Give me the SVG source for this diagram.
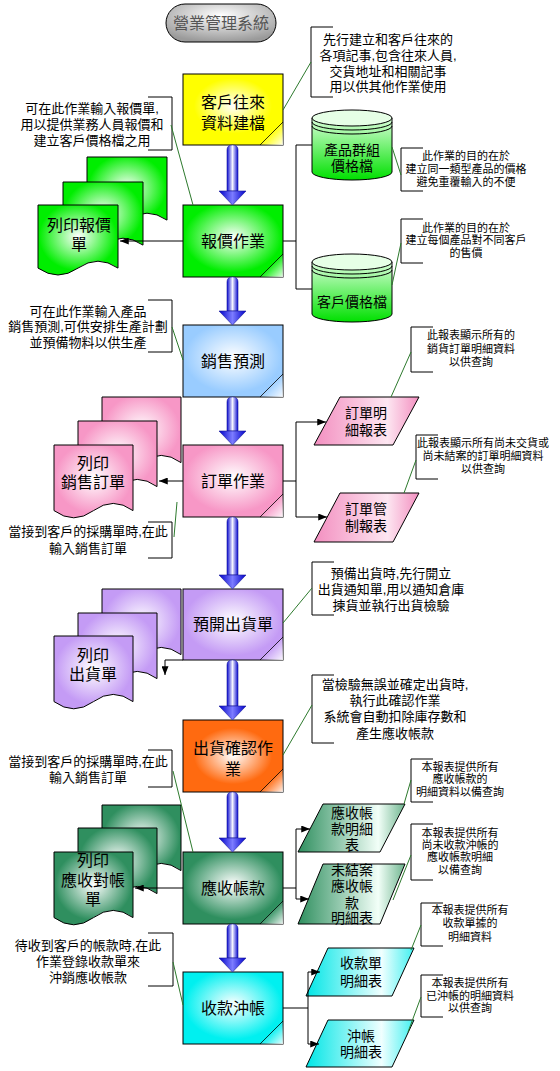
<svg xmlns="http://www.w3.org/2000/svg" width="560" height="1071" viewBox="0 0 560 1071">
<style>
text{font-family:'Liberation Sans','Noto Sans CJK TC',sans-serif;text-anchor:middle;dominant-baseline:central;fill:#000}
.t{font-size:13px}
.s{font-size:11px}
.b{font-size:16px}
.p{font-size:14px}
.ol{stroke:#000;stroke-width:1}
.ln{stroke:#000;stroke-width:1;fill:none}
.ld{stroke:#2d7a2d;stroke-width:1;fill:none}
.sh{fill:url(#gArrow);stroke:#1a1a9a;stroke-width:0.6}
.hd{fill:url(#gHead);stroke:#1a1a9a;stroke-width:0.6}
.fold{fill:url(#gFold);stroke:none}
.fl{stroke:#000;stroke-width:0.8}
</style>
<defs>
<radialGradient id="gY" cx="50%" cy="45%" r="65%"><stop offset="0" stop-color="#fff"/><stop offset="0.6" stop-color="#ffff00"/></radialGradient>
<radialGradient id="gG" cx="50%" cy="45%" r="65%"><stop offset="0" stop-color="#fff"/><stop offset="0.75" stop-color="#00ee00"/></radialGradient>
<radialGradient id="gB" cx="50%" cy="45%" r="65%"><stop offset="0" stop-color="#fff"/><stop offset="0.75" stop-color="#99ccff"/></radialGradient>
<radialGradient id="gP" cx="50%" cy="45%" r="65%"><stop offset="0" stop-color="#fff"/><stop offset="0.75" stop-color="#f797c6"/></radialGradient>
<radialGradient id="gV" cx="50%" cy="45%" r="65%"><stop offset="0" stop-color="#fff"/><stop offset="0.75" stop-color="#c49bf5"/></radialGradient>
<radialGradient id="gO" cx="50%" cy="50%" r="65%"><stop offset="0" stop-color="#fff"/><stop offset="0.6" stop-color="#ff6a10"/></radialGradient>
<radialGradient id="gD" cx="50%" cy="45%" r="65%"><stop offset="0" stop-color="#fff"/><stop offset="0.75" stop-color="#2f8f5f"/></radialGradient>
<radialGradient id="gC" cx="50%" cy="45%" r="65%"><stop offset="0" stop-color="#fff"/><stop offset="0.75" stop-color="#00f0f0"/></radialGradient>
<radialGradient id="gT" cx="50%" cy="30%" r="70%"><stop offset="0" stop-color="#fff"/><stop offset="1" stop-color="#9a9a9a"/></radialGradient>
<linearGradient id="gCyl" x1="0" y1="0" x2="0" y2="1"><stop offset="0" stop-color="#d8ffd8"/><stop offset="1" stop-color="#00e000"/></linearGradient>
<linearGradient id="gArrow" x1="0" y1="0" x2="1" y2="0"><stop offset="0" stop-color="#0a0ad0"/><stop offset="0.5" stop-color="#f4f4ff"/><stop offset="1" stop-color="#0a0ad0"/></linearGradient>
<linearGradient id="gHead" x1="0" y1="0" x2="1" y2="0"><stop offset="0" stop-color="#0000c8"/><stop offset="0.5" stop-color="#7c7cff"/><stop offset="1" stop-color="#0000c8"/></linearGradient>
<linearGradient id="gFold" x1="0" y1="0" x2="1" y2="1"><stop offset="0.45" stop-color="#fff" stop-opacity="0"/><stop offset="1" stop-color="#fff" stop-opacity="0.9"/></linearGradient>
<linearGradient id="gPP" x1="0" y1="0" x2="1" y2="0"><stop offset="0" stop-color="#f38fc0"/><stop offset="0.7" stop-color="#fde6f1"/><stop offset="1" stop-color="#f38fc0"/></linearGradient>
<linearGradient id="gDP" x1="0" y1="0" x2="1" y2="0"><stop offset="0" stop-color="#2f8f5f"/><stop offset="0.75" stop-color="#f2fff8"/><stop offset="1" stop-color="#6fb58f"/></linearGradient>
<linearGradient id="gCP" x1="0" y1="0" x2="1" y2="0"><stop offset="0" stop-color="#00e6e6"/><stop offset="0.7" stop-color="#f0ffff"/><stop offset="1" stop-color="#40f0f0"/></linearGradient>
<marker id="ah" viewBox="0 0 10 8" refX="10" refY="4" markerWidth="9" markerHeight="7" markerUnits="userSpaceOnUse" orient="auto"><path d="M0,0 L10,4 L0,8 Z" fill="#000"/></marker>
</defs>
<rect width="560" height="1071" fill="#fff"/>

<g id="title">
<rect x="166" y="4" width="110" height="38" rx="19" fill="url(#gT)" class="ol"/>
<text x="221" y="23" style="font-size:16px;fill:#555">營業管理系統</text>
</g>

<!-- documents -->
<g id="doc-quote">
<path class="ol" fill="url(#gG)" d="M87,157 H167 V220.1 Q147,206.3 127,220.1 T87,220.1 Z"/>
<path class="ol" fill="url(#gG)" d="M63,182 H143 V245.1 Q123,231.3 103,245.1 T63,245.1 Z"/>
<path class="ol" fill="url(#gG)" d="M38,205 H118 V268.1 Q98,254.3 78,268.1 T38,268.1 Z"/>
<text class="b" x="79" y="225">列印報價</text>
<text class="b" x="79" y="244">單</text>
</g>
<g id="doc-order">
<path class="ol" fill="url(#gP)" d="M102,397 H181 V462.6 Q161.25,448.2 141.5,462.6 T102,462.6 Z"/>
<path class="ol" fill="url(#gP)" d="M78,421 H157 V486.6 Q137.25,472.2 117.5,486.6 T78,486.6 Z"/>
<path class="ol" fill="url(#gP)" d="M54,445 H133 V510.6 Q113.25,496.2 93.5,510.6 T54,510.6 Z"/>
<text class="b" x="93" y="463">列印</text>
<text class="b" x="93" y="482">銷售訂單</text>
</g>
<g id="doc-ship">
<path class="ol" fill="url(#gV)" d="M102,589 H181 V654.6 Q161.25,640.2 141.5,654.6 T102,654.6 Z"/>
<path class="ol" fill="url(#gV)" d="M78,613 H157 V678.6 Q137.25,664.2 117.5,678.6 T78,678.6 Z"/>
<path class="ol" fill="url(#gV)" d="M54,636 H133 V701.6 Q113.25,687.2 93.5,701.6 T54,701.6 Z"/>
<text class="b" x="93" y="655">列印</text>
<text class="b" x="93" y="674">出貨單</text>
</g>
<g id="doc-ar">
<path class="ol" fill="url(#gD)" d="M102,805 H181 V870.6 Q161.25,856.2 141.5,870.6 T102,870.6 Z"/>
<path class="ol" fill="url(#gD)" d="M78,828 H157 V893.6 Q137.25,879.2 117.5,893.6 T78,893.6 Z"/>
<path class="ol" fill="url(#gD)" d="M54,852 H133 V917.6 Q113.25,903.2 93.5,917.6 T54,917.6 Z"/>
<text class="b" x="93" y="860">列印</text>
<text class="b" x="93" y="880">應收對帳</text>
<text class="b" x="93" y="899">單</text>
</g>

<!-- main process boxes -->
<g id="n-customer">
<rect x="183" y="74" width="100" height="71" fill="url(#gY)" class="ol"/>
<polygon class="fold" points="260,145 283,122 283,145"/><line class="fl" x1="260" y1="145" x2="283" y2="122"/>
<text class="b" x="233" y="102">客戶往來</text>
<text class="b" x="233" y="123">資料建檔</text>
</g>
<g id="n-quote">
<rect x="183" y="205" width="100" height="72" fill="url(#gG)" class="ol"/>
<polygon class="fold" points="260,277 283,254 283,277"/><line class="fl" x1="260" y1="277" x2="283" y2="254"/>
<text class="b" x="233" y="241">報價作業</text>
</g>
<g id="n-forecast">
<rect x="183" y="325" width="100" height="72" fill="url(#gB)" class="ol"/>
<polygon class="fold" points="260,397 283,374 283,397"/><line class="fl" x1="260" y1="397" x2="283" y2="374"/>
<text class="b" x="233" y="361">銷售預測</text>
</g>
<g id="n-order">
<rect x="183" y="445" width="100" height="72" fill="url(#gP)" class="ol"/>
<polygon class="fold" points="260,517 283,494 283,517"/><line class="fl" x1="260" y1="517" x2="283" y2="494"/>
<text class="b" x="233" y="481">訂單作業</text>
</g>
<g id="n-preship">
<rect x="183" y="589" width="100" height="71" fill="url(#gV)" class="ol"/>
<polygon class="fold" points="260,660 283,637 283,660"/><line class="fl" x1="260" y1="660" x2="283" y2="637"/>
<text class="b" x="233" y="624">預開出貨單</text>
</g>
<g id="n-confirm">
<rect x="183" y="720" width="100" height="72" fill="url(#gO)" class="ol"/>
<polygon class="fold" points="260,792 283,769 283,792"/><line class="fl" x1="260" y1="792" x2="283" y2="769"/>
<text class="b" x="233" y="748">出貨確認作</text>
<text class="b" x="233" y="769">業</text>
</g>
<g id="n-ar">
<rect x="183" y="852" width="100" height="72" fill="url(#gD)" class="ol"/>
<polygon class="fold" points="260,924 283,901 283,924"/><line class="fl" x1="260" y1="924" x2="283" y2="901"/>
<text class="b" x="233" y="888">應收帳款</text>
</g>
<g id="n-receipt">
<rect x="183" y="972" width="100" height="72" fill="url(#gC)" class="ol"/>
<polygon class="fold" points="260,1044 283,1021 283,1044"/><line class="fl" x1="260" y1="1044" x2="283" y2="1021"/>
<text class="b" x="233" y="1008">收款沖帳</text>
</g>

<!-- cylinders -->
<g id="db-group">
<path class="ol" fill="url(#gCyl)" d="M312,118 V172 A40,8 0 0 0 392,172 V118 Z"/>
<ellipse cx="352" cy="118" rx="40" ry="8" fill="#e6ffe6" class="ol"/>
<path class="ln" d="M312,122 A40,8 0 0 0 392,122 M312,126 A40,8 0 0 0 392,126"/>
<text class="p" x="352" y="150">產品群組</text>
<text class="p" x="352" y="166">價格檔</text>
</g>
<g id="db-customer">
<path class="ol" fill="url(#gCyl)" d="M312,262 V314 A40,8 0 0 0 392,314 V262 Z"/>
<ellipse cx="352" cy="262" rx="40" ry="8" fill="#e6ffe6" class="ol"/>
<path class="ln" d="M312,266 A40,8 0 0 0 392,266 M312,270 A40,8 0 0 0 392,270"/>
<text class="p" x="352" y="302">客戶價格檔</text>
</g>

<!-- report parallelograms -->
<g id="r-orderdetail">
<polygon class="ol" fill="url(#gPP)" points="340,397 419,397 393,445 314,445"/>
<text class="p" x="366" y="413">訂單明</text>
<text class="p" x="366" y="430">細報表</text>
</g>
<g id="r-ordercontrol">
<polygon class="ol" fill="url(#gPP)" points="340,493 419,493 393,542 314,542"/>
<text class="p" x="366" y="509">訂單管</text>
<text class="p" x="366" y="526">制報表</text>
</g>
<g id="r-ardetail">
<polygon class="ol" fill="url(#gDP)" points="323,804 405,804 380,852 298,852"/>
<text class="p" x="352" y="813">應收帳</text>
<text class="p" x="352" y="829">款明細</text>
<text class="p" x="352" y="845">表</text>
</g>
<g id="r-aropen">
<polygon class="ol" fill="url(#gDP)" points="323,864 405,864 380,924 298,924"/>
<text class="p" x="352" y="870">未結案</text>
<text class="p" x="352" y="886">應收帳</text>
<text class="p" x="352" y="903">款</text>
<text class="p" x="352" y="918">明細表</text>
</g>
<g id="r-receiptdetail">
<polygon class="ol" fill="url(#gCP)" points="328,948 414,948 392,996 306,996"/>
<text class="p" x="361" y="963">收款單</text>
<text class="p" x="361" y="981">明細表</text>
</g>
<g id="r-writeoff">
<polygon class="ol" fill="url(#gCP)" points="328,1020 414,1020 392,1067 306,1067"/>
<text class="p" x="361" y="1036">沖帳</text>
<text class="p" x="361" y="1052">明細表</text>
</g>

<!-- notes -->
<g id="note-customer">
<path class="ln" d="M333,27 H311 V97 H333"/>
<text class="t" x="388" y="39">先行建立和客戶往來的</text>
<text class="t" x="388" y="55">各項記事,包含往來人員,</text>
<text class="t" x="388" y="71">交貨地址和相關記事</text>
<text class="t" x="388" y="86">用以供其他作業使用</text>
</g>
<g id="note-quote">
<path class="ln" d="M148,97 H172 V150 H148"/>
<text class="t" x="92" y="108">可在此作業輸入報價單,</text>
<text class="t" x="92" y="124">用以提供業務人員報價和</text>
<text class="t" x="92" y="140">建立客戶價格檔之用</text>
</g>
<g id="note-dbgroup">
<path class="ln" d="M423,148 H401 V191 H423"/>
<text class="s" x="466" y="156">此作業的目的在於</text>
<text class="s" x="466" y="169">建立同一類型產品的價格</text>
<text class="s" x="466" y="182">避免重覆輸入的不便</text>
</g>
<g id="note-dbcustomer">
<path class="ln" d="M423,219 H401 V263 H423"/>
<text class="s" x="466" y="228">此作業的目的在於</text>
<text class="s" x="466" y="240">建立每個產品對不同客戶</text>
<text class="s" x="466" y="253">的售價</text>
</g>
<g id="note-forecast">
<path class="ln" d="M148,300 H172 V352 H148"/>
<text class="t" x="88" y="311">可在此作業輸入產品</text>
<text class="t" x="88" y="326">銷售預測,可供安排生產計劃</text>
<text class="t" x="88" y="342">並預備物料以供生產</text>
</g>
<g id="note-orderdetail">
<path class="ln" d="M433,327 H411 V372 H433"/>
<text class="s" x="471" y="335">此報表顯示所有的</text>
<text class="s" x="471" y="349">銷貨訂單明細資料</text>
<text class="s" x="471" y="362">以供查詢</text>
</g>
<g id="note-ordercontrol">
<path class="ln" d="M438,435 H416 V479 H438"/>
<text class="s" x="483" y="443">此報表顯示所有尚未交貨或</text>
<text class="s" x="483" y="456">尚未結案的訂單明細資料</text>
<text class="s" x="483" y="469">以供查詢</text>
</g>
<g id="note-order">
<path class="ln" d="M148,522 H172 V558 H148"/>
<text class="t" x="88" y="531">當接到客戶的採購單時,在此</text>
<text class="t" x="88" y="548">輸入銷售訂單</text>
</g>
<g id="note-preship">
<path class="ln" d="M334,562 H312 V615 H334"/>
<text class="t" x="391" y="573">預備出貨時,先行開立</text>
<text class="t" x="391" y="589">出貨通知單,用以通知倉庫</text>
<text class="t" x="391" y="605">揀貨並執行出貨檢驗</text>
</g>
<g id="note-confirm">
<path class="ln" d="M334,675 H312 V743 H334"/>
<text class="t" x="395" y="684">當檢驗無誤並確定出貨時,</text>
<text class="t" x="395" y="700">執行此確認作業</text>
<text class="t" x="395" y="716">系統會自動扣除庫存數和</text>
<text class="t" x="395" y="733">產生應收帳款</text>
</g>
<g id="note-ar">
<path class="ln" d="M148,750 H172 V787 H148"/>
<text class="t" x="88" y="761">當接到客戶的採購單時,在此</text>
<text class="t" x="88" y="777">輸入銷售訂單</text>
</g>
<g id="note-ardetail">
<path class="ln" d="M433,759 H411 V802 H433"/>
<text class="s" x="460" y="767">本報表提供所有</text>
<text class="s" x="460" y="779">應收帳款的</text>
<text class="s" x="460" y="792">明細資料以備查詢</text>
</g>
<g id="note-aropen">
<path class="ln" d="M433,824 H411 V880 H433"/>
<text class="s" x="460" y="833">本報表提供所有</text>
<text class="s" x="460" y="845">尚未收款沖帳的</text>
<text class="s" x="460" y="857">應收帳款明細</text>
<text class="s" x="460" y="870">以備查詢</text>
</g>
<g id="note-receiptdetail">
<path class="ln" d="M443,903 H421 V946 H443"/>
<text class="s" x="470" y="910">本報表提供所有</text>
<text class="s" x="470" y="923">收款單據的</text>
<text class="s" x="470" y="937">明細資料</text>
</g>
<g id="note-receipt">
<path class="ln" d="M148,933 H173 V986 H148"/>
<text class="t" x="88" y="945">待收到客戶的帳款時,在此</text>
<text class="t" x="88" y="961">作業登錄收款單來</text>
<text class="t" x="88" y="977">沖銷應收帳款</text>
</g>
<g id="note-writeoff">
<path class="ln" d="M443,975 H421 V1017 H443"/>
<text class="s" x="470" y="983">本報表提供所有</text>
<text class="s" x="470" y="996">已沖帳的明細資料</text>
<text class="s" x="470" y="1008">以供查詢</text>
</g>

<!-- connectors -->
<g id="connectors">
<path class="sh" d="M227,150 Q227,145 232.5,145 Q238,145 238,150 V191 H227 Z"/><path class="hd" d="M219,191 H246 L232.5,205 Z"/>
<path class="sh" d="M227,282 Q227,277 232.5,277 Q238,277 238,282 V311 H227 Z"/><path class="hd" d="M219,311 H246 L232.5,325 Z"/>
<path class="sh" d="M227,402 Q227,397 232.5,397 Q238,397 238,402 V431 H227 Z"/><path class="hd" d="M219,431 H246 L232.5,445 Z"/>
<path class="sh" d="M227,522 Q227,517 232.5,517 Q238,517 238,522 V575 H227 Z"/><path class="hd" d="M219,575 H246 L232.5,589 Z"/>
<path class="sh" d="M227,665 Q227,660 232.5,660 Q238,660 238,665 V706 H227 Z"/><path class="hd" d="M219,706 H246 L232.5,720 Z"/>
<path class="sh" d="M227,797 Q227,792 232.5,792 Q238,792 238,797 V838 H227 Z"/><path class="hd" d="M219,838 H246 L232.5,852 Z"/>
<path class="sh" d="M227,929 Q227,924 232.5,924 Q238,924 238,929 V958 H227 Z"/><path class="hd" d="M219,958 H246 L232.5,972 Z"/>

<path class="ln" d="M183,241 H120" marker-end="url(#ah)"/>
<path class="ln" d="M283,241 H296 M296,145 V289 M296,145 H312 M296,289 H312"/>
<path class="ln" d="M183,481 H159" marker-end="url(#ah)"/>
<path class="ln" d="M283,481 H296 M296,422 V517"/>
<path class="ln" d="M296,422 H326" marker-end="url(#ah)"/>
<path class="ln" d="M296,517 H327" marker-end="url(#ah)"/>
<path class="ln" d="M183,660 H165 V675" marker-end="url(#ah)"/>
<path class="ln" d="M183,888 H135" marker-end="url(#ah)"/>
<path class="ln" d="M283,888 H296 M296,829 V899"/>
<path class="ln" d="M296,829 H310" marker-end="url(#ah)"/>
<path class="ln" d="M296,899 H309" marker-end="url(#ah)"/>
<path class="ln" d="M283,1008 H308 M308,972 V1044"/>
<path class="ln" d="M308,972 H320" marker-end="url(#ah)"/>
<path class="ln" d="M308,1044 H319" marker-end="url(#ah)"/>

<path class="ld" d="M311,62 L283,110"/>
<path class="ld" d="M171,125 L193,205"/>
<path class="ld" d="M392,147 L401,175"/>
<path class="ld" d="M392,285 L401,243"/>
<path class="ld" d="M172,327 L183,360"/>
<path class="ld" d="M411,352 L391,397"/>
<path class="ld" d="M416,460 L404,493"/>
<path class="ld" d="M174,537 L177,502"/>
<path class="ld" d="M312,588 L283,623"/>
<path class="ld" d="M312,705 L283,755"/>
<path class="ld" d="M173,771 L193,852"/>
<path class="ld" d="M411,780 L404,804"/>
<path class="ld" d="M411,855 L393,900"/>
<path class="ld" d="M421,925 L411,950"/>
<path class="ld" d="M173,962 L183,1005"/>
<path class="ld" d="M421,997 L408,1032"/>
</g>
</svg>
